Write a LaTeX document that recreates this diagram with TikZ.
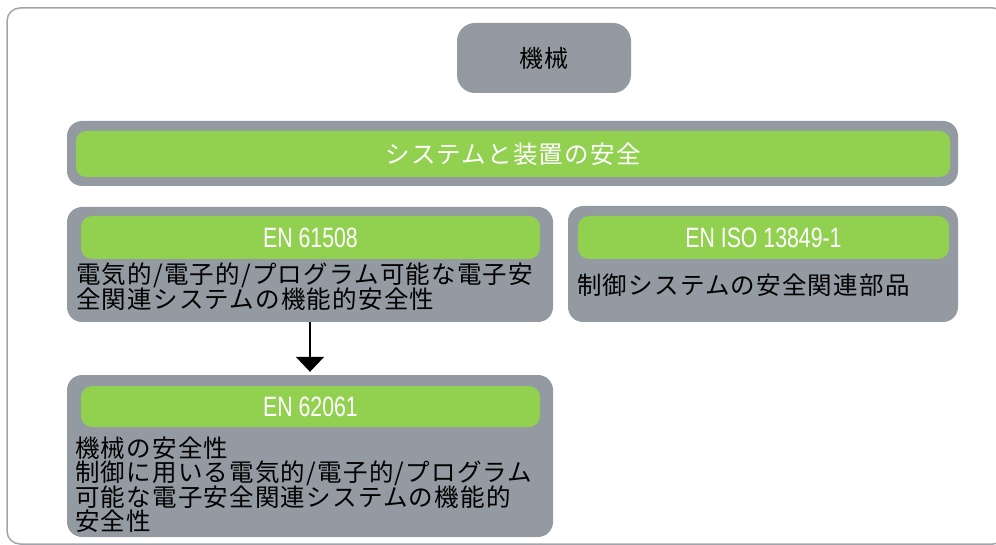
\documentclass[tikz,border=0pt]{standalone}
\usepackage{fontspec}
\setmainfont{Liberation Sans}
\newfontfamily\latinnarrow[FakeStretch=0.76]{Liberation Sans}
\newfontfamily\jp[LetterSpace=5]{Noto Sans CJK JP}
\usetikzlibrary{arrows.meta}
\definecolor{boxgray}{RGB}{148,154,161}
\definecolor{boxgreen}{RGB}{146,208,80}
\definecolor{framegray}{RGB}{160,165,170}
\tikzset{
  graybox/.style={fill=boxgray, rounded corners=15pt, inner sep=0pt},
  greenbox/.style={fill=boxgreen, rounded corners=11pt, inner sep=0pt, text=white},
  latinlabel/.style={font=\latinnarrow\fontsize{28}{30}\selectfont},
  jplabel/.style={font=\jp\fontsize{24.5}{26}\selectfont},
  bodyline/.style={font=\jp\fontsize{24.5}{26}\selectfont, anchor=base west, inner sep=0pt, text=black},
  connector/.style={line width=2pt, -{Triangle[width=28pt,length=15pt]}, shorten >=3pt}
}
\begin{document}
\begin{tikzpicture}[x=1pt,y=-1pt]
\useasboundingbox (0,0) rectangle (996,545);
% outer frame
\draw[framegray, line width=1.5pt, rounded corners=13pt] (7,8) rectangle (1006,544);
% machine
\node[graybox, rounded corners=18pt, minimum width=174pt, minimum height=70pt,
      font=\jp\fontsize{24}{26}\selectfont] (machine) at (544,58) {機械};
% band
\node[graybox, minimum width=891pt, minimum height=65pt] (bandout) at (512.5,153.5) {};
\node[greenbox, jplabel, rounded corners=10pt, minimum width=874pt, minimum height=46pt] (band) at (513,154) {システムと装置の安全};
% EN 61508
\node[graybox, minimum width=486pt, minimum height=115pt] (b1) at (310,264.5) {};
\node[greenbox, latinlabel, minimum width=459pt, minimum height=43pt] (g1) at (310.5,237.5) {EN 61508};
\node[bodyline] (t1a) at (76,284) {電気的/電子的/プログラム可能な電子安};
\node[bodyline] (t1b) at (76,308.5) {全関連システムの機能的安全性};
% EN ISO 13849-1
\node[graybox, minimum width=390pt, minimum height=116pt] (b2) at (763,264) {};
\node[greenbox, latinlabel, minimum width=371pt, minimum height=43pt] (g2) at (763.5,237.5) {EN ISO 13849-1};
\node[bodyline] (t2a) at (577,294.5) {制御システムの安全関連部品};
% EN 62061
\node[graybox, minimum width=486pt, minimum height=162pt] (b3) at (310,456) {};
\node[greenbox, latinlabel, minimum width=459pt, minimum height=41pt] (g3) at (310.5,406.5) {EN 62061};
\node[bodyline] (t3a) at (75,457) {機械の安全性};
\node[bodyline] (t3b) at (75,481.5) {制御に用いる電気的/電子的/プログラム};
\node[bodyline] (t3c) at (75,506) {可能な電子安全関連システムの機能的};
\node[bodyline] (t3d) at (75,530.5) {安全性};
% connector
\draw[connector] (b1.south) -- (b3.north);
\end{tikzpicture}
\end{document}
